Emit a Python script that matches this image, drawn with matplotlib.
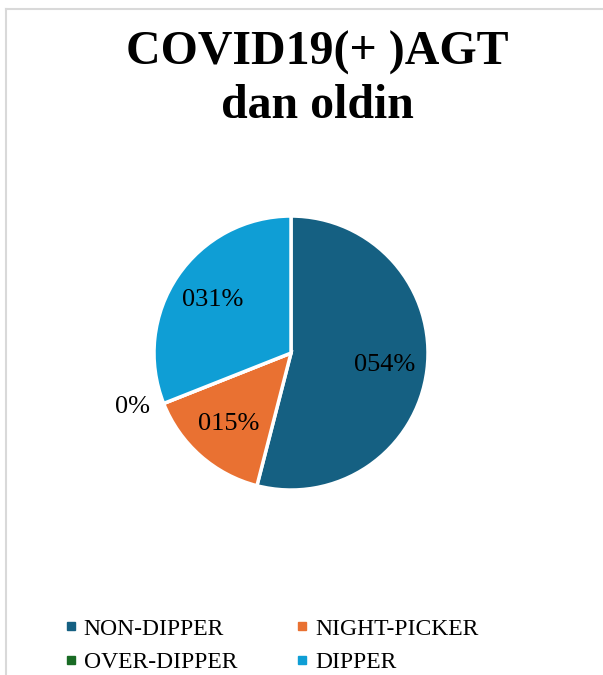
import numpy as np
import matplotlib
matplotlib.use("Agg")
import matplotlib.pyplot as plt
from matplotlib.lines import Line2D

# chart data
categories = ["NON-DIPPER", "NIGHT-PICKER", "OVER-DIPPER", "DIPPER"]
values = [54, 15, 0, 31]
value_labels = ["054%", "015%", "0%", "031%"]
colors = ["#156082", "#E97132", "#196B24", "#0F9ED5"]
title = "COVID19(+ )AGT\ndan oldin"

plt.rcParams["font.family"] = ["Liberation Serif", "DejaVu Serif"]

fig = plt.figure(figsize=(6.03, 6.75), dpi=100)
fig.patch.set_facecolor("white")

# chart border (only top and left show in the crop)
fig.add_artist(Line2D([6 / 603, 6 / 603], [0, 1 - 9 / 675], color="#d9d9d9", lw=1.5))
fig.add_artist(Line2D([6 / 603, 1], [1 - 9 / 675, 1 - 9 / 675], color="#d9d9d9", lw=1.5))

fig.text(0.526, 1 - 31 / 675, title, ha="center", va="top", fontsize=34.5,
         fontweight="bold", linespacing=1.25)

ax = fig.add_axes([0.1986, 0.2233, 0.568, 0.5074])
wedges, _ = ax.pie(values, colors=colors, startangle=90, counterclock=False,
                   wedgeprops=dict(edgecolor="white", linewidth=2.5))
ax.set_xlim(-1.25, 1.25)
ax.set_ylim(-1.25, 1.25)
ax.set_aspect("equal")
ax.axis("off")

# data labels: inside for real slices, outside for the empty one
for w, lab, v in zip(wedges, value_labels, values):
    ang = np.deg2rad((w.theta1 + w.theta2) / 2)
    if v == 0:
        ang = np.deg2rad(w.theta1) - 0.05
    r = 0.69 if v > 0 else 1.22
    ax.text(r * np.cos(ang), r * np.sin(ang), lab, ha="center", va="center",
            fontsize=19, color="black")

# legend fills row by row: NON-DIPPER, NIGHT-PICKER / OVER-DIPPER, DIPPER
order = [0, 2, 1, 3]
handles = [Line2D([], [], marker="s", linestyle="none", markersize=6,
                  markerfacecolor=colors[i], markeredgecolor=colors[i]) for i in order]
fig.legend(handles, [categories[i] for i in order], ncol=2, loc="upper left",
           bbox_to_anchor=(66 / 603, 1 - 618 / 675), frameon=False,
           fontsize=17, handlelength=0.4, handletextpad=0.35,
           columnspacing=2.55, labelspacing=0.5, borderpad=0, borderaxespad=0)

fig.savefig("out.png", dpi=100, facecolor="white")
